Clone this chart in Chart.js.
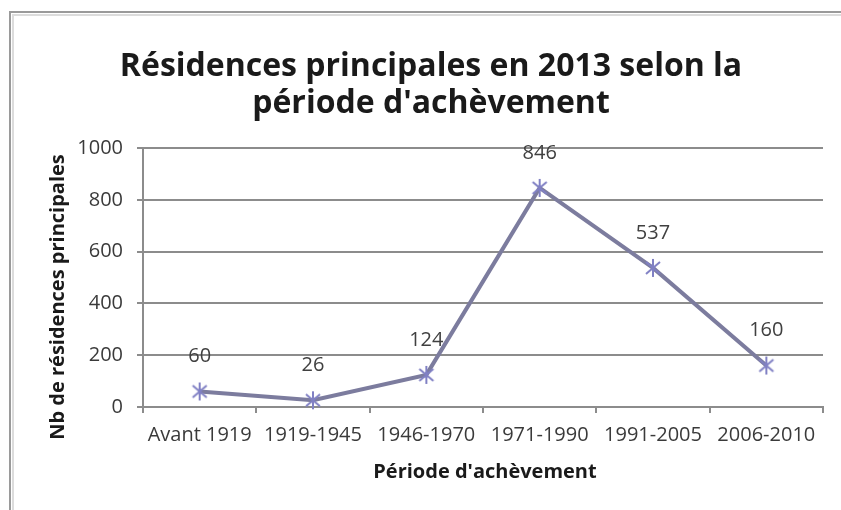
<!DOCTYPE html>
<html>
<head>
<meta charset="utf-8">
<script src="https://cdn.jsdelivr.net/npm/chart.js@4"></script>
<style>
html,body{margin:0;padding:0;background:#fff;}
#wrap{width:841px;height:510px;position:relative;}
</style>
</head>
<body>
<div id="wrap"><canvas id="c" width="841" height="510"></canvas></div>
<script>
const categories = ["Avant 1919", "1919-1945", "1946-1970", "1971-1990", "1991-2005", "2006-2010"];
const values = [60, 26, 124, 846, 537, 160];
const yTicks = [0, 200, 400, 600, 800, 1000];
const titleLines = ["Résidences principales en 2013 selon la", "période d'achèvement"];
const yTitle = "Nb de résidences principales";
const xTitle = "Période d'achèvement";

const FONT = "'Open Sans', 'DejaVu Sans', sans-serif";

function makeStar(){
  const s = 20, c = document.createElement('canvas');
  c.width = s; c.height = s;
  const g = c.getContext('2d');
  g.strokeStyle = 'rgb(128,128,196)';
  g.lineWidth = 2;
  g.beginPath();
  g.moveTo(3,4); g.lineTo(17,16);
  g.moveTo(17,4); g.lineTo(3,16);
  g.moveTo(10,1); g.lineTo(10,19);
  g.stroke();
  return c;
}

function fitFont(ctx, text, weight, target, maxSize){
  let size = maxSize;
  while (size > 6) {
    ctx.font = weight + ' ' + size + 'px ' + FONT;
    if (ctx.measureText(text).width <= target) break;
    size -= 0.5;
  }
  return size;
}

const decor = {
  id: 'decor',
  beforeDraw(chart){
    const ctx = chart.ctx;
    ctx.save();
    ctx.fillStyle = '#fff';
    ctx.fillRect(0,0,chart.width,chart.height);
    ctx.strokeStyle = '#9a9a9a';
    ctx.lineWidth = 2;
    ctx.beginPath();
    ctx.moveTo(10, 510); ctx.lineTo(10, 12); ctx.lineTo(841, 12);
    ctx.stroke();
    ctx.strokeStyle = '#dcdcdc';
    ctx.lineWidth = 2;
    ctx.beginPath();
    ctx.moveTo(13, 510); ctx.lineTo(13, 15); ctx.lineTo(841, 15);
    ctx.stroke();
    ctx.restore();
  },
  afterDraw(chart){
    const ctx = chart.ctx;
    ctx.save();
    ctx.fillStyle = '#1a1a1a';
    ctx.textAlign = 'center';
    ctx.textBaseline = 'middle';
    ctx.font = 'bold 32px ' + FONT;
    const w = ctx.measureText(titleLines[0]).width;
    const sx = Math.min(1, 627 / w);
    ctx.save();
    ctx.translate(431, 0);
    ctx.scale(sx, 1);
    ctx.fillText(titleLines[0], 0, 67);
    ctx.fillText(titleLines[1], 0, 104);
    ctx.restore();

    ctx.fillStyle = '#1a1a1a';
    const xs = fitFont(ctx, xTitle, 'bold', 224, 24);
    ctx.font = 'bold ' + xs + 'px ' + FONT;
    ctx.fillText(xTitle, 485, 472);

    const ys = fitFont(ctx, yTitle, 'bold', 288, 24);
    ctx.font = 'bold ' + ys + 'px ' + FONT;
    ctx.translate(58, 297);
    ctx.rotate(-Math.PI/2);
    ctx.fillText(yTitle, 0, 0);
    ctx.restore();

    // data labels
    const meta = chart.getDatasetMeta(0);
    ctx.save();
    ctx.fillStyle = '#404040';
    ctx.font = '20px ' + FONT;
    ctx.textAlign = 'center';
    ctx.textBaseline = 'middle';
    meta.data.forEach((pt, i) => {
      ctx.fillText(String(values[i]), pt.x, pt.y - 35);
    });
    ctx.restore();
  }
};

new Chart(document.getElementById('c'), {
  type: 'line',
  data: {
    labels: categories,
    datasets: [{
      data: values,
      borderColor: 'rgb(124,124,158)',
      borderWidth: 4,
      tension: 0,
      pointStyle: makeStar(),
      pointRadius: 9,
      clip: false
    }]
  },
  plugins: [decor],
  options: {
    responsive: false,
    animation: false,
    events: [],
    layout: { padding: { top: 148, right: 18, bottom: 0, left: 0 } },
    plugins: { legend: { display: false }, title: { display: false }, tooltip: { enabled: false } },
    scales: {
      x: {
        offset: true,
        afterFit(s){ s.height = 103; },
        grid: { offset: true, drawOnChartArea: false, drawTicks: true, tickLength: 6, color: '#8c8c8c', lineWidth: 2 },
        border: { display: true, color: '#8c8c8c', width: 2 },
        ticks: { color: '#3a3a3a', font: { family: FONT, size: 20 }, padding: 10, maxRotation: 0, autoSkip: false }
      },
      y: {
        min: 0, max: 1000,
        afterFit(s){ s.width = 143; },
        afterBuildTicks(s){ s.ticks = yTicks.map(v => ({ value: v })); },
        grid: { color: '#8c8c8c', lineWidth: 2, tickLength: 6 },
        border: { display: true, color: '#8c8c8c', width: 2 },
        ticks: { color: '#3a3a3a', font: { family: FONT, size: 20 }, padding: 14, callback: v => String(v) }
      }
    }
  }
});
</script>
</body>
</html>
